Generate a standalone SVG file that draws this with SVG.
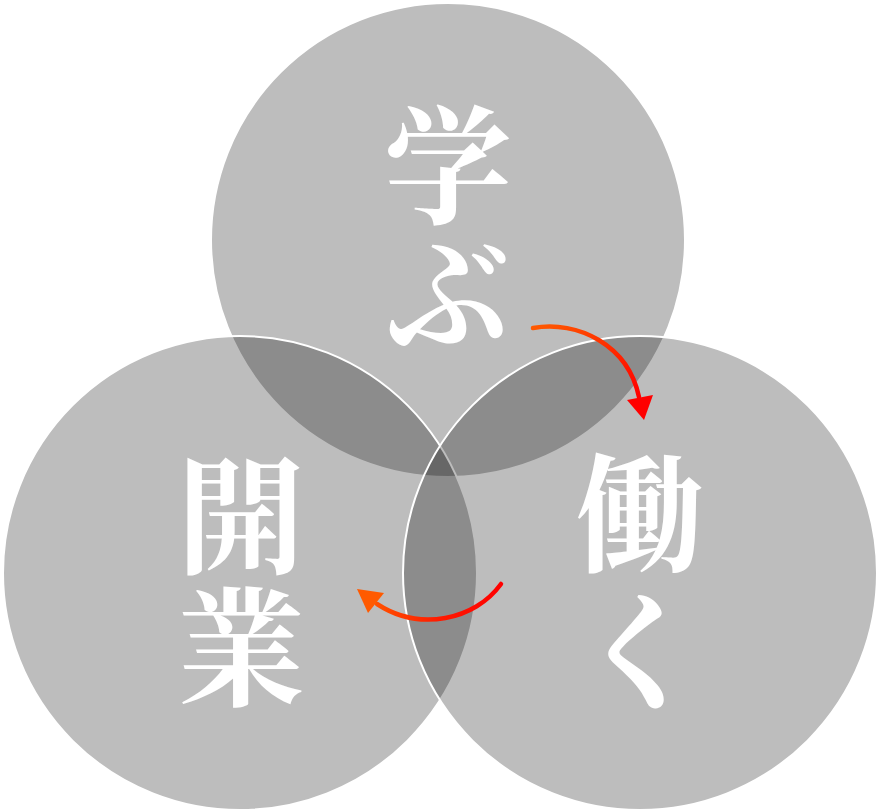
<svg xmlns="http://www.w3.org/2000/svg" width="880" height="812" viewBox="0 0 880 812">
<style>
.c{fill:#000;fill-opacity:0.26;stroke:#fff;stroke-width:2}
.t{fill:#fff;font-family:"Noto Serif CJK JP","Noto Sans CJK JP",serif;font-weight:bold;font-size:128px;writing-mode:vertical-rl}
.a{fill:none;stroke-width:4.5;stroke-linecap:round}
</style>
<defs>
<linearGradient id="g1" x1="0" y1="0" x2="1" y2="1"><stop offset="0" stop-color="#ff5a00"/><stop offset="1" stop-color="#ff0000"/></linearGradient>
<linearGradient id="g2" x1="1" y1="0" x2="0" y2="0"><stop offset="0" stop-color="#ff0000"/><stop offset="0.5" stop-color="#ff1a00"/><stop offset="1" stop-color="#ff5000"/></linearGradient>
</defs>
<rect width="880" height="812" fill="#fff"/>
<g id="manabu"><circle class="c" cx="448" cy="240" r="237"/><text class="t" x="448" y="101">学ぶ</text></g>
<g id="kaigyo"><circle class="c" cx="240" cy="573" r="237"/><text class="t" x="241" y="451" letter-spacing="4">開業</text></g>
<g id="hataraku"><circle class="c" cx="640" cy="573" r="237"/><text class="t" x="640" y="449" letter-spacing="10">働く</text></g>
<g id="connectors">
<path class="a" stroke="url(#g1)" d="M533,328 C578,320 628,345 639,397"/>
<polygon points="627,400 653,395 644,420" fill="#ff0000"/>
<path class="a" stroke="url(#g2)" d="M501,584 C475,620 420,632 377,604"/>
<polygon points="357,589 384,593 368,613" fill="#ff5a00"/>
</g>
</svg>
